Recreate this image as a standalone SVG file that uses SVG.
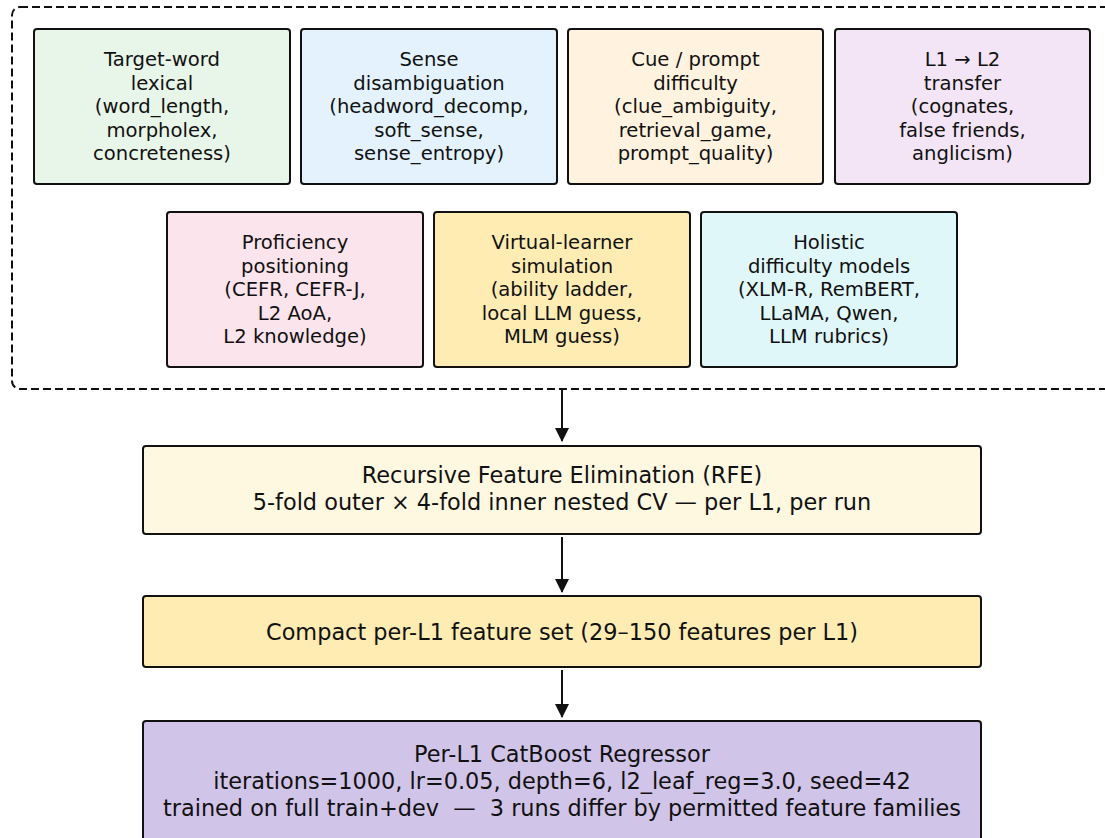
<svg xmlns="http://www.w3.org/2000/svg" width="1105" height="838" viewBox="0 0 1105 838">
<defs>
<style>
.b{stroke:#111;stroke-width:2;}
.t{font-family:"DejaVu Sans",sans-serif;font-size:19.6px;fill:#111;text-anchor:middle;}
.T{font-family:"DejaVu Sans",sans-serif;font-size:22.4px;fill:#111;text-anchor:middle;white-space:pre;}
.c{stroke:#111;stroke-width:2;fill:none;}
</style>
<marker id="ah" markerWidth="14" markerHeight="16" refX="13" refY="7" orient="auto" markerUnits="userSpaceOnUse" viewBox="0 0 14 14">
<path d="M0,0 L14,7 L0,14 Z" fill="#111"/>
</marker>
</defs>
<rect width="1105" height="838" fill="#fff"/>
<g id="group-frame">
<rect x="12" y="7" width="1120" height="382" rx="8" fill="none" stroke="#111" stroke-width="2" stroke-dasharray="8,4"/>
</g>
<g id="n1"><rect class="b" x="34" y="29" width="256" height="155" rx="3" fill="#e8f5e9"/>
<text class="t" x="162" y="66">Target-word</text><text class="t" x="162" y="89.5">lexical</text><text class="t" x="162" y="113">(word_length,</text><text class="t" x="162" y="136.5">morpholex,</text><text class="t" x="162" y="160">concreteness)</text></g>
<g id="n2"><rect class="b" x="301" y="29" width="256" height="155" rx="3" fill="#e3f2fd"/>
<text class="t" x="429" y="66">Sense</text><text class="t" x="429" y="89.5">disambiguation</text><text class="t" x="429" y="113">(headword_decomp,</text><text class="t" x="429" y="136.5">soft_sense,</text><text class="t" x="429" y="160">sense_entropy)</text></g>
<g id="n3"><rect class="b" x="568" y="29" width="255" height="155" rx="3" fill="#fff3e0"/>
<text class="t" x="695.5" y="66">Cue / prompt</text><text class="t" x="695.5" y="89.5">difficulty</text><text class="t" x="695.5" y="113">(clue_ambiguity,</text><text class="t" x="695.5" y="136.5">retrieval_game,</text><text class="t" x="695.5" y="160">prompt_quality)</text></g>
<g id="n4"><rect class="b" x="835" y="29" width="255" height="155" rx="3" fill="#f3e5f5"/>
<text class="t" x="962.5" y="66">L1 → L2</text><text class="t" x="962.5" y="89.5">transfer</text><text class="t" x="962.5" y="113">(cognates,</text><text class="t" x="962.5" y="136.5">false friends,</text><text class="t" x="962.5" y="160">anglicism)</text></g>
<g id="n5"><rect class="b" x="167" y="212" width="256" height="155" rx="3" fill="#fce4ec"/>
<text class="t" x="295" y="249">Proficiency</text><text class="t" x="295" y="272.5">positioning</text><text class="t" x="295" y="296">(CEFR, CEFR-J,</text><text class="t" x="295" y="319.5">L2 AoA,</text><text class="t" x="295" y="343">L2 knowledge)</text></g>
<g id="n6"><rect class="b" x="434" y="212" width="256" height="155" rx="3" fill="#ffecb3"/>
<text class="t" x="562" y="249">Virtual-learner</text><text class="t" x="562" y="272.5">simulation</text><text class="t" x="562" y="296">(ability ladder,</text><text class="t" x="562" y="319.5">local LLM guess,</text><text class="t" x="562" y="343">MLM guess)</text></g>
<g id="n7"><rect class="b" x="701" y="212" width="256" height="155" rx="3" fill="#e0f7fa"/>
<text class="t" x="829" y="249">Holistic</text><text class="t" x="829" y="272.5">difficulty models</text><text class="t" x="829" y="296">(XLM-R, RemBERT,</text><text class="t" x="829" y="319.5">LLaMA, Qwen,</text><text class="t" x="829" y="343">LLM rubrics)</text></g>
<g id="n-rfe"><rect class="b" x="143" y="446" width="838" height="88" rx="3" fill="#fff8e1"/>
<text class="T" x="562" y="483">Recursive Feature Elimination (RFE)</text>
<text class="T" x="562" y="510">5-fold outer × 4-fold inner nested CV — per L1, per run</text></g>
<g id="n-compact"><rect class="b" x="143" y="596" width="838" height="71" rx="3" fill="#ffecb3"/>
<text class="T" x="562" y="639.5">Compact per-L1 feature set (29–150 features per L1)</text></g>
<g id="n-catboost"><rect class="b" x="143" y="721" width="838" height="130" rx="3" fill="#d1c4e9"/>
<text class="T" x="562" y="762">Per-L1 CatBoost Regressor</text>
<text class="T" x="562" y="789">iterations=1000, lr=0.05, depth=6, l2_leaf_reg=3.0, seed=42</text>
<text class="T" x="562" y="816">trained on full train+dev  —  3 runs differ by permitted feature families</text></g>
<g id="connectors">
<line class="c" x1="562" y1="390" x2="562" y2="441" marker-end="url(#ah)"/>
<line class="c" x1="562" y1="537" x2="562" y2="592" marker-end="url(#ah)"/>
<line class="c" x1="562" y1="670" x2="562" y2="717" marker-end="url(#ah)"/>
</g>
</svg>
